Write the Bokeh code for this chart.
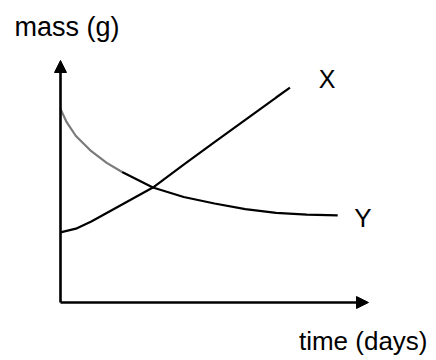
from bokeh.plotting import figure
from bokeh.models import Range1d, Arrow, NormalHead, Label
from bokeh.embed import file_html
from bokeh.resources import INLINE

# --- data (time in days, mass in g; schematic values) ---
x_time = [0, 0.5, 1, 1.5, 2, 3, 4, 5, 6, 7, 7.45]
x_mass = [2.9, 3.05, 3.35, 3.7, 4.05, 4.75, 5.7, 6.63, 7.55, 8.47, 8.88]

y_time = [0, 0.2, 0.5, 1, 1.5, 2, 3, 4, 5, 6, 7, 8, 9]
y_mass = [8.0, 7.45, 6.88, 6.25, 5.77, 5.39, 4.75, 4.36, 4.09, 3.86, 3.70, 3.63, 3.60]

time_axis_max = 10
mass_axis_max = 10

label_x = "X"
label_y = "Y"
axis_label_time = "time (days)"
axis_label_mass = "mass (g)"

FONT = "Liberation Sans"

p = figure(width=436, height=360, output_backend="svg", toolbar_location=None,
           x_range=Range1d(-1.948, 12.208), y_range=Range1d(-2.397, 12.479),
           min_border=0)
p.axis.visible = False
p.grid.visible = False
p.outline_line_color = None
p.background_fill_color = "white"
p.border_fill_color = "white"

# axes with arrow heads
p.add_layout(Arrow(end=NormalHead(size=12, fill_color="black", line_color="black"),
                   x_start=0, y_start=0, x_end=time_axis_max, y_end=0,
                   line_width=2.6, line_color="black"))
p.add_layout(Arrow(end=NormalHead(size=12, fill_color="black", line_color="black"),
                   x_start=0, y_start=0, x_end=0, y_end=mass_axis_max,
                   line_width=2.6, line_color="black"))

# curve X
p.line(x_time, x_mass, line_width=2.2, line_color="black")
# curve Y (lighter at its start, as in the scan)
p.line(y_time[:6], y_mass[:6], line_width=2.2, line_color="#7a7a7a")
p.line(y_time[5:], y_mass[5:], line_width=2.2, line_color="black")

# labels
p.add_layout(Label(x=-1.494, y=11.364, text=axis_label_mass, text_font=FONT,
                   text_font_size="27px", text_align="left", text_baseline="alphabetic",
                   text_color="black"))
p.add_layout(Label(x=11.916, y=-1.60, text=axis_label_time, text_font=FONT,
                   text_font_size="26px", text_align="right", text_baseline="alphabetic",
                   text_color="black"))
p.add_layout(Label(x=8.653, y=9.215, text=label_x, text_font=FONT,
                   text_font_size="25px", text_align="center", text_baseline="middle",
                   text_color="black"))
p.add_layout(Label(x=9.821, y=3.492, text=label_y, text_font=FONT,
                   text_font_size="26px", text_align="center", text_baseline="middle",
                   text_color="black"))

open("out.html", "w").write(file_html(p, INLINE))
